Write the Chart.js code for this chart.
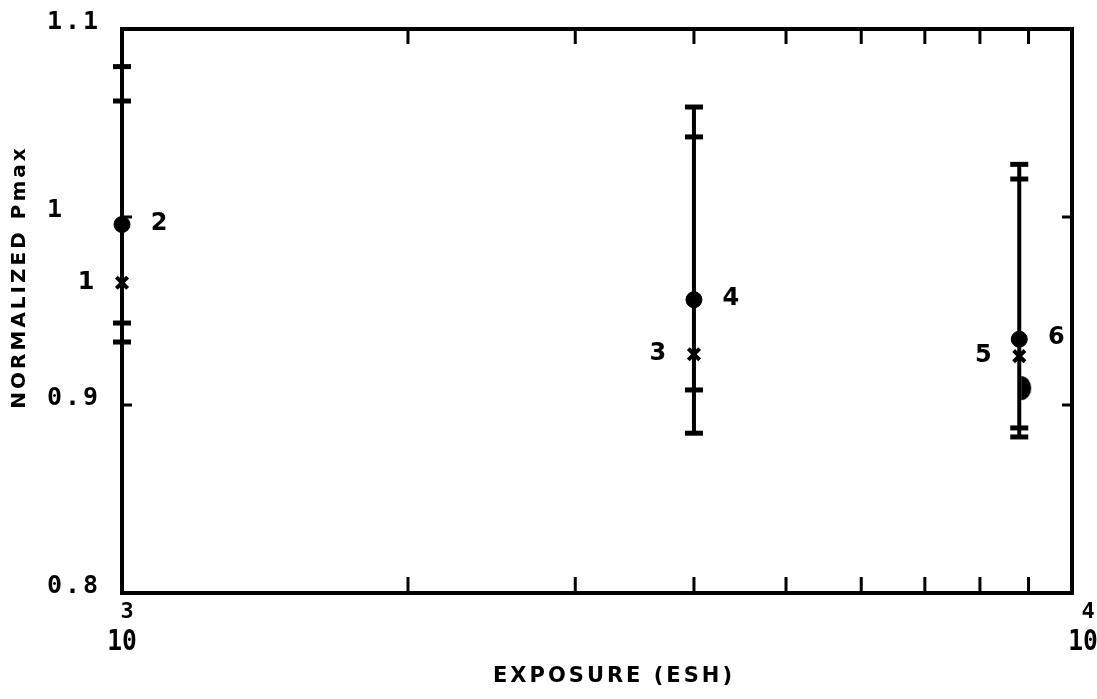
<!DOCTYPE html>
<html>
<head>
<meta charset="utf-8">
<script src="https://cdn.jsdelivr.net/npm/chart.js"></script>
<style>
  html, body { margin: 0; background: #fff; }
</style>
</head>
<body>
<canvas id="myChart" width="1097" height="699"></canvas>
<script>
// exposure (ESH) of each measuring column
const exposure = [1000, 4000, 8800];
// "x" markers (odd labels) and filled dots (even labels)
const crossValues = [0.965, 0.927, 0.926];
const crossLabels = ['1', '3', '5'];
const dotValues = [0.996, 0.956, 0.935];
const dotLabels = ['2', '4', '6'];
// error bar ends, outer and inner caps
const barLow = [0.9335, 0.885, 0.883];
const barHigh = [1.080, 1.0585, 1.028];
const innerLow = [0.9436, 0.908, 0.8878];
const innerHigh = [1.0617, 1.0426, 1.0202];
// the odd half marker beside column 3
const extraExposure = [8950];
const extraValues = [0.909];
// axis ticks
const yTicks = [1.1, 1.0, 0.9, 0.8];
const yTickLabels = ['1.1', '1', '0.9', '0.8'];
const xDecades = [1000, 10000];
const xExponents = ['3', '4'];
const xMinorTicks = [2000, 3000, 4000, 5000, 6000, 7000, 8000, 9000];

const ctx = document.getElementById('myChart');

// half ellipse marker
const half = document.createElement('canvas');
half.width = 12; half.height = 26;
const hc = half.getContext('2d');
hc.fillStyle = '#000';
hc.beginPath();
hc.ellipse(1, 13, 10, 12, 0, -Math.PI / 2, Math.PI / 2);
hc.closePath();
hc.fill();

const bars = exposure.map((x, i) => ({
  type: 'line',
  data: [{x: x, y: barLow[i]}, {x: x, y: barHigh[i]}],
  borderColor: '#000',
  borderWidth: 4,
  pointRadius: 0,
  clip: false,
  order: 5
}));

const caps = [];
exposure.forEach((x, i) => {
  caps.push({x: x, y: barLow[i]}, {x: x, y: barHigh[i]}, {x: x, y: innerLow[i]}, {x: x, y: innerHigh[i]});
});

const framePlugin = {
  id: 'frame',
  beforeDatasetsDraw(chart) {
    const c = chart.ctx, a = chart.chartArea;
    const xs = chart.scales.x, ys = chart.scales.y;
    c.save();
    c.strokeStyle = '#000';
    c.lineWidth = 4;
    c.strokeRect(a.left, a.top, a.right - a.left, a.bottom - a.top);
    c.lineWidth = 3;
    c.beginPath();
    xMinorTicks.forEach(v => {
      const px = xs.getPixelForValue(v);
      c.moveTo(px, a.top); c.lineTo(px, a.top + 15);
      c.moveTo(px, a.bottom); c.lineTo(px, a.bottom - 16);
    });
    [1.0, 0.9].forEach(v => {
      const py = ys.getPixelForValue(v);
      c.moveTo(a.left, py); c.lineTo(a.left + 10, py);
      c.moveTo(a.right, py); c.lineTo(a.right - 10, py);
    });
    c.stroke();
    c.restore();
  },
  afterDraw(chart) {
    const c = chart.ctx, a = chart.chartArea;
    const xs = chart.scales.x, ys = chart.scales.y;
    c.save();
    c.fillStyle = '#000';

    // y tick labels
    c.font = 'bold 25px "DejaVu Sans Mono"';
    c.letterSpacing = '3px';
    c.textAlign = 'left';
    c.textBaseline = 'middle';
    yTicks.forEach((v, i) => {
      c.fillText(yTickLabels[i], 47, ys.getPixelForValue(v) - 7);
    });

    // x decade labels
    c.letterSpacing = '0px';
    c.textAlign = 'center';
    xDecades.forEach((v, i) => {
      const px = xs.getPixelForValue(v) + (i === xDecades.length - 1 ? 11 : 0);
      c.save();
      c.translate(px, a.bottom + 49);
      c.scale(0.85, 1);
      c.font = 'bold 29px "DejaVu Sans Mono"';
      c.fillText('10', 0, 0);
      c.restore();
      c.font = 'bold 22px "DejaVu Sans Mono"';
      c.fillText(xExponents[i], px + 5, a.bottom + 19);
    });

    // point labels
    c.font = 'bold 24px "DejaVu Sans"';
    exposure.forEach((x, i) => {
      const px = xs.getPixelForValue(x);
      c.fillText(dotLabels[i], px + 37, ys.getPixelForValue(dotValues[i]) - 1);
      c.fillText(crossLabels[i], px - 36, ys.getPixelForValue(crossValues[i]));
    });

    // axis titles
    c.font = 'bold 21px "DejaVu Sans"';
    c.letterSpacing = '3px';
    c.fillText('EXPOSURE (ESH)', 614, 677);
    c.save();
    c.translate(20, 277);
    c.rotate(-Math.PI / 2);
    c.font = 'bold 20px "DejaVu Sans"';
    c.letterSpacing = '3px';
    c.fillText('NORMALIZED Pmax', 0, 0);
    c.restore();
    c.restore();
  }
};

new Chart(ctx, {
  type: 'scatter',
  data: {
    datasets: [
      ...bars,
      {
        data: caps,
        pointStyle: 'line',
        pointRadius: 9,
        borderColor: '#000',
        borderWidth: 5,
        clip: false,
        order: 4
      },
      {
        data: exposure.map((x, i) => ({x: x, y: crossValues[i]})),
        pointStyle: 'crossRot',
        pointRadius: 8,
        borderColor: '#000',
        borderWidth: 4,
        clip: false,
        order: 2
      },
      {
        data: exposure.map((x, i) => ({x: x, y: dotValues[i]})),
        pointStyle: 'circle',
        pointRadius: 8,
        backgroundColor: '#000',
        borderColor: '#000',
        borderWidth: 1,
        clip: false,
        order: 1
      },
      {
        data: extraExposure.map((x, i) => ({x: x, y: extraValues[i]})),
        pointStyle: half,
        clip: false,
        order: 1
      }
    ]
  },
  options: {
    responsive: false,
    animation: false,
    devicePixelRatio: 1,
    layout: { padding: { top: 29, right: 25, left: 0, bottom: 0 } },
    plugins: { legend: { display: false }, tooltip: { enabled: false } },
    scales: {
      x: {
        type: 'logarithmic',
        min: 1000,
        max: 10000,
        ticks: { display: false },
        grid: { display: false },
        border: { display: false },
        afterFit: s => { s.height = 106; }
      },
      y: {
        min: 0.8,
        max: 1.1,
        ticks: { display: false },
        grid: { display: false },
        border: { display: false },
        afterFit: s => { s.width = 122; }
      }
    }
  },
  plugins: [framePlugin]
});
</script>
</body>
</html>
